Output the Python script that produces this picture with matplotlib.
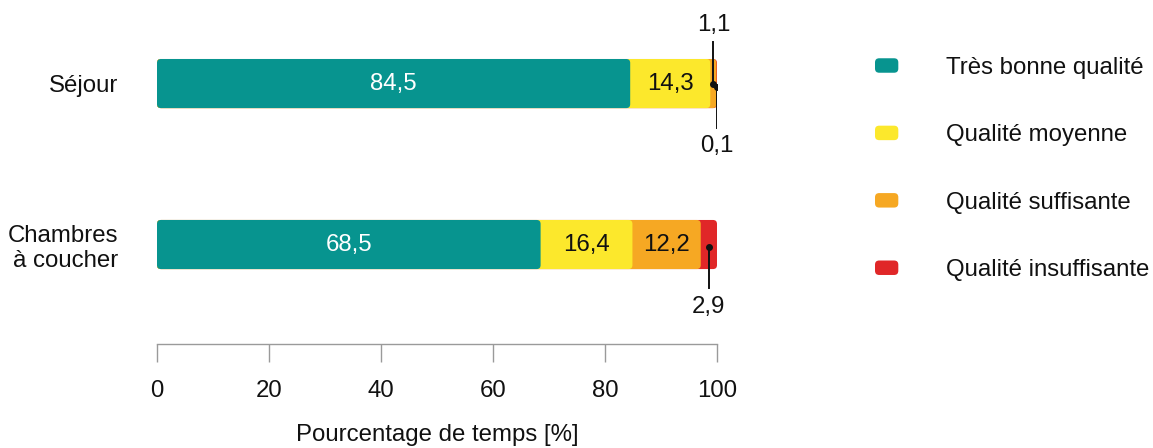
import matplotlib
matplotlib.use("Agg")
import matplotlib.pyplot as plt
from matplotlib.patches import FancyBboxPatch, Patch
from matplotlib.legend_handler import HandlerPatch
import numpy as np

plt.rcParams['font.family'] = ['Liberation Sans', 'DejaVu Sans']

# ---- data ----
categories = ["Séjour", "Chambres\nà coucher"]
series_names = ["Très bonne qualité", "Qualité moyenne", "Qualité suffisante", "Qualité insuffisante"]
sejour = [84.5, 14.3, 1.1, 0.1]
chambres = [68.5, 16.4, 12.2, 2.9]
colors = ["#07948F", "#FCE82C", "#F6A823", "#E02728"]
label_colors = ["white", "#111111", "#111111", "#111111"]
xticks = [0, 20, 40, 60, 80, 100]
xlabel = "Pourcentage de temps [%]"

values = np.array([sejour, chambres])

W, H, DPI = 11.53, 4.48, 100
fig = plt.figure(figsize=(W, H), dpi=DPI)
ax = fig.add_axes([157 / 1153, (448 - 344) / 448, 560 / 1153, 344 / 448])
ax.set_xlim(0, 100)
ax.set_ylim(1.618, -0.519)

FS = 17.3
bar_h = 0.305
px_x = 100 / 560.0      # data units per pixel (x)
px_y = 2.137 / 344.0    # data units per pixel (y)
aspect = px_y / px_x
r = 4 * px_x

ypos = np.arange(len(categories))
for i, row in enumerate(values):
    cum = np.cumsum(row)
    left = np.concatenate([[0], cum[:-1]])
    # draw back to front so rounded ends overlap like the reference
    for j in reversed(range(len(row))):
        p = FancyBboxPatch((0, ypos[i] - bar_h / 2), cum[j], bar_h,
                           boxstyle=f"round,pad=0,rounding_size={r}",
                           mutation_aspect=aspect, facecolor=colors[j],
                           edgecolor="none", zorder=2)
        ax.add_patch(p)
    for j in range(len(row)):
        if row[j] >= 5:
            ax.text(left[j] + row[j] / 2, ypos[i], f"{row[j]:.1f}".replace(".", ","),
                    ha="center", va="center", fontsize=FS, color=label_colors[j], zorder=3)

# callouts for small segments
def callout(i, j, dy_dot, y_end, y_text):
    row = values[i]
    cum = np.cumsum(row)
    xc = cum[j] - row[j] / 2
    ax.plot([xc, xc], [ypos[i] + dy_dot, ypos[i] + y_end], color="#111111", lw=1.4, zorder=4)
    ax.plot([xc], [ypos[i] + dy_dot], "o", color="#111111", ms=4, zorder=5)
    ax.text(xc, ypos[i] + y_text, f"{row[j]:.1f}".replace(".", ","), ha="center", va="center",
            fontsize=FS, color="#111111")

callout(0, 2, 0.0, -0.258, -0.365)
callout(0, 3, 0.022, 0.276, 0.385)
callout(1, 3, 0.016, 0.27, 0.39)

# axes styling
for s in ["top", "right", "left"]:
    ax.spines[s].set_visible(False)
ax.spines["bottom"].set_color("#9a9a9a")
ax.spines["bottom"].set_linewidth(1.0)
ax.set_xticks(xticks)
ax.set_xticklabels([str(t) for t in xticks], fontsize=FS)
ax.tick_params(axis="x", length=13, width=1.0, color="#9a9a9a", pad=13, labelcolor="#111111")
ax.set_yticks(ypos)
ax.tick_params(axis="y", length=0, pad=28)
ax.set_yticklabels(categories, fontsize=FS, color="#111111", multialignment="right")
ax.set_xlabel(xlabel, fontsize=FS, color="#111111", labelpad=16)

# legend
class RoundHandler(HandlerPatch):
    def create_artists(self, legend, orig_handle, xdescent, ydescent, width, height, fontsize, trans):
        p = FancyBboxPatch((-xdescent, -ydescent), width, height,
                           boxstyle="round,pad=0,rounding_size=3",
                           facecolor=orig_handle.get_facecolor(), edgecolor="none", transform=trans)
        return [p]

handles = [Patch(facecolor=c) for c in colors]
leg = fig.legend(handles, series_names, loc="upper left", bbox_to_anchor=(875 / 1153, 1 - 57 / 448),
                 frameon=False, fontsize=FS, handlelength=0.97, handleheight=0.55,
                 handletextpad=1.98, labelspacing=1.89, borderaxespad=0, borderpad=0,
                 handler_map={Patch: RoundHandler()})
for t in leg.get_texts():
    t.set_color("#111111")

fig.savefig("out.png", dpi=DPI)
